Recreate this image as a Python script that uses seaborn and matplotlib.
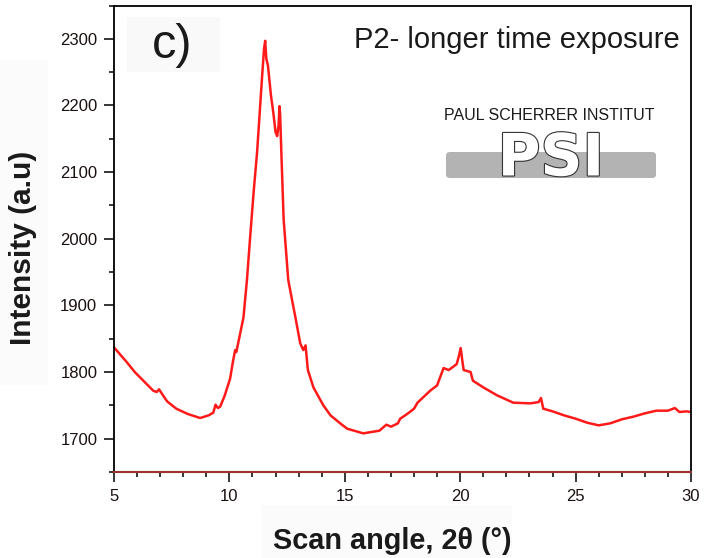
import numpy as np
import pandas as pd
import matplotlib
matplotlib.use("Agg")
import matplotlib.pyplot as plt
import matplotlib.patheffects as pe
from matplotlib.patches import FancyBboxPatch, Rectangle
from matplotlib.ticker import MultipleLocator
import seaborn as sns

# ---- data ----
scan_angle = [5.0, 5.3, 5.55, 5.9, 6.27, 6.7, 6.85, 6.95, 7.3, 7.7, 8.2, 8.73, 9.1, 9.3, 9.4,
              9.5, 9.6, 9.8, 10.03, 10.15, 10.25, 10.3, 10.45, 10.61, 10.76, 10.9, 11.05, 11.2,
              11.42, 11.5, 11.55, 11.6, 11.67, 11.8, 11.9, 12.0, 12.07, 12.13, 12.17, 12.2,
              12.25, 12.35, 12.55, 12.86, 13.07, 13.2, 13.3, 13.4, 13.64, 14.07, 14.38, 14.8,
              15.1, 15.8, 16.5, 16.8, 17.0, 17.3, 17.4, 17.7, 18.0, 18.15, 18.7, 19.0, 19.28,
              19.5, 19.7, 19.85, 19.95, 20.02, 20.1, 20.15, 20.45, 20.55, 21.0, 21.6, 22.3,
              23.05, 23.4, 23.5, 23.6, 24.0, 24.5, 25.0, 25.5, 26.0, 26.5, 27.0, 27.5, 28.0,
              28.5, 29.0, 29.3, 29.5, 29.8, 30.0]
intensity = [1837, 1825, 1815, 1800, 1787, 1772, 1770, 1774, 1756, 1745, 1737, 1731, 1735, 1739, 1751,
             1746, 1748, 1765, 1790, 1815, 1833, 1830, 1855, 1882, 1938, 2003, 2070, 2130,
             2245, 2285, 2297, 2270, 2260, 2215, 2190, 2160, 2154, 2170, 2199, 2185,
             2130, 2029, 1938, 1882, 1843, 1833, 1840, 1803, 1777, 1750, 1735, 1723,
             1715, 1708, 1712, 1721, 1718, 1723, 1730, 1737, 1745, 1754, 1772, 1780, 1806,
             1803, 1808, 1812, 1825, 1836, 1815, 1803, 1800, 1787, 1777, 1765, 1754,
             1753, 1755, 1761, 1745, 1741, 1735, 1730, 1724, 1720, 1723, 1729, 1733, 1738,
             1742, 1742, 1746, 1740, 1741, 1740]
x_ticks = [5, 10, 15, 20, 25, 30]
y_ticks = [1700, 1800, 1900, 2000, 2100, 2200, 2300]

df = pd.DataFrame({"angle": scan_angle, "intensity": intensity})

sns.set_style("white")
plt.rcParams["font.family"] = ["Liberation Sans", "DejaVu Sans"]

W, H = 705, 558
fig = plt.figure(figsize=(W / 100, H / 100), dpi=100)
fig.patch.set_facecolor("white")

# faint grey boxes behind labels (as in the reference)
for (x0, y0, x1, y1) in [(0, 60, 48, 385), (262, 505, 512, 558)]:
    fig.patches.append(Rectangle((x0 / W, 1 - y1 / H), (x1 - x0) / W, (y1 - y0) / H,
                                 transform=fig.transFigure, facecolor="#fbfbfb",
                                 edgecolor="none", zorder=0))

ax = fig.add_axes([114 / W, 1 - 472 / H, (691 - 114) / W, (472 - 5.5) / H])

sns.lineplot(data=df, x="angle", y="intensity", ax=ax, color="#ff1a1a",
             linewidth=1.8, legend=False)

ax.set_xlim(5, 30)
ax.set_ylim(1650, 2350)
ax.set_xticks(x_ticks)
ax.set_yticks(y_ticks)
ax.xaxis.set_minor_locator(MultipleLocator(1))
ax.yaxis.set_minor_locator(MultipleLocator(50))
ax.tick_params(axis="both", which="major", direction="out", length=7, width=1.1,
               color="black", labelsize=12, labelcolor="#1a1010", pad=5)
ax.tick_params(axis="both", which="minor", direction="out", length=3.5, width=1.1,
               color="black")
ax.tick_params(top=False, right=False, which="both")
ax.tick_params(axis="x", which="both", bottom=True)
ax.tick_params(axis="y", which="both", left=True)

for s in ["left", "right", "top"]:
    ax.spines[s].set_color("black")
    ax.spines[s].set_linewidth(1.3)
ax.spines["bottom"].set_color("#a03030")
ax.spines["bottom"].set_linewidth(1.5)
ax.spines["bottom"].set_linestyle((0, (1, 1)))

ax.set_xlabel("")
ax.set_ylabel("")
fig.text(392 / W, 1 - 541 / H, "Scan angle, 2θ (°)", ha="center", va="center",
         fontsize=20.8, fontweight="bold", color="#1a1a1a")
fig.text(23 / W, 1 - 248 / H, "Intensity (a.u)", ha="center", va="center",
         rotation=90, fontsize=21.5, fontweight="bold", color="#1a1a1a")

# panel letter with faint box
fig.patches.append(Rectangle((127 / W, 1 - 72 / H), 93 / W, 55 / H,
                             transform=fig.transFigure, facecolor="#f9f9f9",
                             edgecolor="none", zorder=1))
fig.text(172 / W, 1 - 45 / H, "c)", ha="center", va="center", fontsize=35,
         color="#1a1a1a")
fig.text(680 / W, 1 - 40 / H, "P2- longer time exposure", ha="right", va="center",
         fontsize=21, color="#1a1a1a")

# PSI logo
fig.text(549 / W, 1 - 115 / H, "PAUL SCHERRER INSTITUT", ha="center", va="center",
         fontsize=11.5, color="#1a1a1a")
bar = FancyBboxPatch((446 / W, 1 - 178 / H), 210 / W, 26 / H,
                     boxstyle="round,pad=0,rounding_size=0.006",
                     transform=fig.transFigure, facecolor="#b3b3b3",
                     edgecolor="none", zorder=2)
fig.patches.append(bar)
psi = fig.text(551 / W, 1 - 159 / H, "PSI", ha="center", va="center", fontsize=42,
               fontweight="bold", color="white", zorder=3,
               family=["DejaVu Sans"])
psi.set_path_effects([pe.withStroke(linewidth=1.6, foreground="#333333")])

fig.savefig("out.png", dpi=100)
